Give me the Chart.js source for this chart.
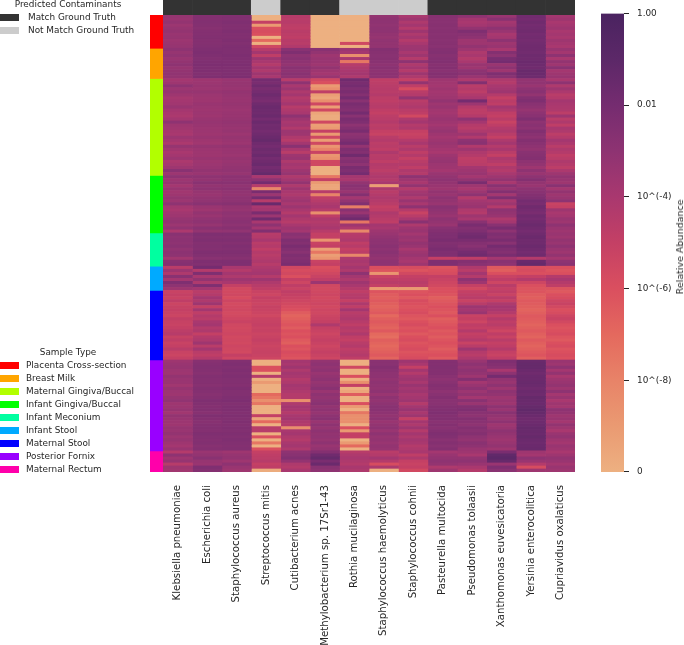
<!DOCTYPE html>
<html><head><meta charset="utf-8">
<script src="https://cdn.jsdelivr.net/npm/chart.js@4"></script>
<style>
html,body{margin:0;padding:0;background:#fff;width:684px;height:645px;overflow:hidden;font-family:"DejaVu Sans",sans-serif;color:#262626}
canvas{position:absolute;display:block}
.t{position:absolute;font-size:8.9px;line-height:12px;white-space:nowrap}
.c{transform:translateX(-50%)}
.s{position:absolute;left:0;width:19px;height:7px}
#barTitle{position:absolute;left:680px;top:247px;transform:translate(-50%,-50%) rotate(-90deg);font-size:9.5px;white-space:nowrap;line-height:12px}
</style></head><body>
<canvas id="heat" width="684" height="645" style="left:0;top:0"></canvas>
<canvas id="top" width="412" height="15" style="left:163px;top:0"></canvas>
<canvas id="side" width="13" height="457" style="left:150px;top:15px"></canvas>
<canvas id="bar" width="94" height="645" style="left:590px;top:0"></canvas>
<div id="barTitle">Relative Abundance</div>
<div id="legends"></div>
<script>
// Values are -10*log10(relative abundance): 100 means an abundance of 0, 0 means 1.00.
const taxa = ["Klebsiella pneumoniae","Escherichia coli","Staphylococcus aureus","Streptococcus mitis","Cutibacterium acnes","Methylobacterium sp. 17Sr1-43","Rothia mucilaginosa","Staphylococcus haemolyticus","Staphylococcus cohnii","Pasteurella multocida","Pseudomonas tolaasii","Xanthomonas euvesicatoria","Yersinia enterocolitica","Cupriavidus oxalaticus"];
const groundTruth = ["Match Ground Truth","Match Ground Truth","Match Ground Truth","Not Match Ground Truth","Match Ground Truth","Match Ground Truth","Not Match Ground Truth","Not Match Ground Truth","Not Match Ground Truth","Match Ground Truth","Match Ground Truth","Match Ground Truth","Match Ground Truth","Match Ground Truth"];
const sampleTypes = ["Placenta Cross-section","Breast Milk","Maternal Gingiva/Buccal","Infant Gingiva/Buccal","Infant Meconium","Infant Stool","Maternal Stool","Posterior Fornix","Maternal Rectum"];
const sampleCounts = [11,10,32,19,11,8,23,30,7];
const sampleColors = ["#ff0000","#ffa500","#b2ff00","#00ff00","#00ffa0","#00aaff","#0000ff","#9900ff","#ff00aa"];
const truthColors = {"Match Ground Truth":"#333333","Not Match Ground Truth":"#cccccc"};

const klebsiella = [33,34,32,35,33,32,34,33,35,34,33,
30,33,31,34,32,30,33,32,31,32,
38,36,30,35,33,36,39,38,37,34,38,40,41,38,30,36,37,39,40,35,38,41,33,37,40,38,35,41,39,36,28,35,
30,35,33,38,34,37,36,33,35,30,38,40,37,36,33,32,35,31,41,
28,30,29,30,28,31,29,30,37,27,26,
46,35,42,28,38,24,30,36,
52,50,52,48,53,51,50,52,53,49,51,52,50,47,45,51,48,52,50,46,52,53,50,
36,34,33,35,36,32,34,34,37,33,35,36,33,31,36,35,33,37,32,34,35,36,33,34,32,35,33,36,38,34,
44,30,36,33,45,36,37];
const ecoli = [26,26,25,26,27,26,26,25,26,26,25,
24,23,24,25,24,23,24,24,25,24,
36,35,34,35,33,35,36,36,34,35,36,35,36,34,33,34,35,35,36,34,36,37,33,35,36,36,34,36,35,34,32,34,
30,32,28,32,30,33,34,32,31,28,34,36,32,34,31,30,33,28,32,
24,25,24,26,25,26,24,25,28,24,25,
20,44,24,40,32,42,24,38,
46,44,38,42,36,50,38,48,44,46,40,38,44,42,50,44,42,36,46,38,46,48,44,
27,26,25,26,27,25,26,26,27,25,26,27,26,24,25,26,25,27,24,26,27,26,25,26,24,25,26,25,27,26,
34,32,28,33,34,24,26];
const saureus = [25,25,24,25,25,24,25,25,24,25,24,
24,24,23,24,24,23,24,24,24,23,
34,33,33,34,32,33,34,34,33,34,35,34,34,33,32,33,34,33,35,33,34,35,32,34,34,35,33,34,33,32,31,33,
29,30,28,31,29,31,32,30,30,27,32,33,30,31,29,28,30,27,31,
24,25,24,26,24,25,24,25,27,24,24,
40,44,38,42,36,40,50,56,
56,55,58,54,57,56,55,57,56,54,52,55,56,55,54,56,55,56,54,55,56,50,54,
25,24,25,24,25,24,25,25,26,24,25,25,24,23,25,24,24,25,24,25,24,25,24,25,24,25,24,25,26,25,
36,33,32,36,30,34,36];
const smitis = [100,100,50,90,60,58,60,100,70,100,55,
45,38,48,36,40,44,38,42,36,40,
20,22,18,22,20,17,20,22,18,16,17,18,16,20,16,19,18,20,18,16,14,18,20,17,19,16,20,18,16,20,18,14,
40,30,20,45,82,22,35,20,45,15,40,38,22,35,18,40,30,38,25,
45,44,40,46,44,48,44,46,44,42,45,
42,40,38,44,36,42,45,48,
52,54,50,52,53,51,52,53,55,52,51,50,52,51,53,52,50,52,53,52,51,52,54,
100,100,60,60,100,45,100,90,100,100,100,70,75,85,75,100,100,100,50,95,70,100,45,45,100,60,100,75,100,60,
50,48,47,45,50,48,98];
const cutibacterium = [45,46,45,47,48,46,47,48,45,46,43,
28,24,30,28,30,32,28,30,28,30,
45,30,40,35,42,38,44,42,38,45,42,40,30,36,40,38,43,35,36,42,45,38,28,40,46,36,34,42,38,40,36,33,
42,38,32,42,36,40,42,38,36,40,35,40,44,38,42,45,40,36,38,
28,30,24,26,22,25,28,24,26,24,22,
55,58,56,60,50,54,48,52,
48,50,52,54,56,58,60,65,68,66,64,62,65,60,62,60,64,66,60,62,58,60,62,
38,40,36,42,38,40,44,42,38,40,42,44,44,85,42,38,40,44,40,38,42,44,85,40,38,42,44,40,38,42,
30,28,25,32,42,44,40];
const methylobacterium = [100,100,100,100,100,100,100,100,100,100,100,
28,32,36,34,34,36,32,36,38,34,
55,60,90,85,48,92,95,85,55,92,55,95,98,98,55,92,90,50,90,55,92,55,88,80,52,88,85,55,55,100,100,100,
75,50,90,95,95,45,80,48,45,42,40,45,85,48,42,44,42,40,45,
50,50,88,52,50,92,75,92,88,52,50,
60,58,55,52,48,35,55,56,
55,54,56,55,54,56,54,55,53,52,50,42,50,52,54,52,50,52,54,52,50,52,54,
32,30,32,30,34,32,30,33,31,28,34,30,32,30,28,32,30,33,30,28,34,30,33,30,32,31,33,30,34,32,
26,18,14,22,16,28,30];
const rothia = [100,100,100,100,100,100,100,100,100,55,100,
35,38,85,40,75,45,42,40,38,42,
18,22,20,24,22,26,20,28,22,24,26,20,28,22,24,30,26,22,30,28,24,20,32,24,26,18,28,26,30,22,24,20,
38,40,32,28,30,34,26,38,32,25,78,28,34,24,18,75,36,42,82,
45,44,42,48,45,50,47,82,42,40,42,
38,42,30,38,42,36,40,44,
48,45,44,50,42,48,38,46,44,42,45,48,44,46,42,48,50,46,44,48,46,44,48,
100,100,55,100,100,60,100,85,50,100,95,65,100,100,60,90,100,75,85,85,85,100,60,90,50,50,100,90,70,100,
45,42,40,42,44,40,42];
const shaemolyticus = [32,30,30,31,30,30,32,33,31,32,32,
26,27,28,27,28,30,28,30,29,30,
48,47,46,45,46,44,47,48,46,45,48,50,47,46,44,47,46,50,52,46,44,47,46,48,42,46,45,48,44,45,47,44,
42,44,40,92,42,46,44,42,44,46,50,48,42,44,46,48,38,40,36,
34,32,30,30,28,30,28,30,32,30,30,
60,62,88,52,48,46,50,90,
62,65,66,64,66,68,66,64,70,66,64,66,68,64,70,72,66,68,70,68,66,64,68,
28,28,26,28,30,30,32,30,31,32,30,34,30,32,30,28,28,30,32,30,34,32,30,34,30,33,32,34,32,33,
46,44,38,44,58,42,100];
const scohnii = [40,36,42,38,44,36,42,38,44,40,36,
35,40,36,44,30,42,38,44,36,42,
50,32,48,58,46,44,32,46,44,42,46,48,56,42,38,44,42,50,52,50,44,40,46,42,48,44,50,46,44,48,42,44,
30,36,40,32,44,38,36,42,34,40,30,44,52,46,40,28,42,36,34,
38,34,36,32,34,40,36,34,38,40,36,
58,62,56,50,48,46,48,90,
62,60,64,58,60,62,60,58,62,64,60,58,62,60,64,60,58,62,60,58,62,60,58,
36,40,50,38,44,38,36,40,34,38,36,40,38,36,44,38,34,40,36,50,38,42,36,44,38,42,38,40,44,42,
40,48,42,50,52,50,56];
const pasteurella = [27,28,28,27,28,27,28,27,28,27,28,
26,25,27,26,25,27,26,28,26,27,
36,37,38,36,38,37,36,32,36,34,37,38,36,34,36,38,35,33,36,38,36,34,36,38,40,36,34,33,35,36,38,34,
32,30,32,34,36,32,34,30,32,34,28,30,32,34,30,32,34,28,26,
24,24,22,25,24,22,24,24,50,24,24,
62,60,58,50,52,54,56,60,
60,62,66,64,62,60,62,64,60,66,64,62,60,64,62,65,62,60,62,65,62,60,64,
26,26,25,26,26,28,30,28,26,27,30,28,26,28,28,26,25,24,26,25,28,26,28,26,24,25,28,26,28,26,
38,34,32,30,32,42,36];
const pseudomonas = [30,38,40,38,32,24,28,30,36,36,32,
36,42,40,44,40,34,36,30,28,34,
42,25,46,44,47,43,40,20,35,44,47,47,44,30,38,44,46,42,36,43,30,28,43,36,42,44,48,47,46,38,36,34,
38,32,22,36,40,35,30,44,38,36,34,42,44,36,40,28,22,26,24,
20,18,22,26,28,24,20,18,48,26,28,
42,46,38,44,30,36,50,56,
50,48,46,52,46,35,38,34,52,50,54,48,50,44,50,48,44,52,46,36,44,46,42,
34,30,33,30,32,36,26,38,34,30,35,32,38,28,34,26,24,28,30,26,28,30,26,28,26,30,32,28,30,34,
36,40,32,30,34,40,44];
const xanthomonas = [34,28,38,36,30,34,40,38,30,36,34,
40,26,30,22,20,34,30,36,24,28,
42,44,40,38,36,44,50,46,48,38,42,48,50,46,52,48,44,42,46,50,42,38,44,40,46,50,42,44,48,42,44,40,
36,32,40,28,34,26,38,24,40,36,44,30,32,34,42,38,28,22,30,
24,26,22,28,20,24,26,22,38,28,30,
64,66,60,52,48,54,46,50,
48,52,46,50,42,38,40,44,50,44,48,46,50,54,48,52,46,50,48,44,50,52,48,
24,26,28,40,30,20,32,34,30,36,30,32,36,34,36,30,34,28,32,34,30,36,34,30,32,34,36,34,32,36,
22,12,10,14,34,24,28];
const yersinia = [19,20,18,20,19,18,20,19,20,19,18,
18,19,17,18,16,17,18,15,16,17,
32,31,34,30,28,32,26,24,28,30,33,30,28,24,30,28,30,25,28,30,26,28,30,32,28,27,26,30,32,36,30,34,
30,26,32,34,30,28,26,24,20,22,18,20,22,18,20,18,16,18,20,
18,16,18,18,16,18,20,18,44,16,14,
60,58,60,50,44,54,60,62,
62,65,66,64,65,66,68,66,64,65,66,68,66,64,66,68,64,66,68,66,64,62,66,
15,14,14,16,18,16,16,15,16,18,16,17,14,15,16,14,12,14,16,18,17,16,14,15,16,14,16,17,16,15,
36,38,30,34,44,58,36];
const cupriavidus = [38,36,40,38,36,40,38,40,36,38,40,
34,38,30,40,32,36,28,38,36,34,
40,30,42,36,41,46,44,38,40,41,42,47,36,46,42,48,40,42,47,44,38,41,46,42,44,48,46,42,44,47,41,36,
32,34,36,28,38,32,36,34,30,52,50,36,40,38,34,36,30,34,36,
34,36,32,34,30,34,36,32,38,30,28,
60,62,60,44,40,44,48,62,
64,60,58,54,52,56,60,58,54,52,56,60,62,60,58,62,64,60,58,62,60,58,60,
34,36,30,38,32,40,36,34,32,36,30,38,34,40,36,38,30,32,36,34,38,32,36,40,34,32,36,38,34,36,
40,36,32,34,38,34,36];
const columns = [klebsiella,ecoli,saureus,smitis,cutibacterium,methylobacterium,rothia,shaemolyticus,scohnii,pasteurella,pseudomonas,xanthomonas,yersinia,cupriavidus];
const barTicks = ["0","10^(-8)","10^(-6)","10^(-4)","0.01","1.00"];
const colorStops = ["#edb081","#ea9a72","#e88368","#e4695e","#da4f5f","#c44065","#a9386f","#8e3372","#752c70","#5c2868","#4a2360"];

const rowTotal = sampleCounts.reduce((a,b)=>a+b,0);
function hexRgb(h){return [1,3,5].map(i=>parseInt(h.substr(i,2),16));}
function colorFor(depth){
  const t=(100-depth)/100*(colorStops.length-1), i=Math.min(Math.floor(t),colorStops.length-2), f=t-i;
  const a=hexRgb(colorStops[i]), b=hexRgb(colorStops[i+1]);
  return `rgb(${a.map((v,k)=>Math.round(v+(b[k]-v)*f)).join(",")})`;
}
Chart.defaults.font.family='"DejaVu Sans",sans-serif';
Chart.defaults.color='#262626';
Chart.defaults.animation=false;
Chart.defaults.responsive=false;
const quiet={legend:{display:false},tooltip:{enabled:false}};

new Chart(document.getElementById('heat'),{
  type:'bar',
  data:{labels:taxa,datasets:columns.map((col,k)=>({
    label:taxa[k],
    data:col.map((v,i)=>({x:taxa[k],y:[i,i+1],v})),
    backgroundColor:c=>colorFor(c.raw.v),
    borderWidth:0,barPercentage:1,categoryPercentage:1,grouped:false
  }))},
  options:{
    layout:{padding:{left:163,right:109,top:15,bottom:0}},
    plugins:quiet,
    scales:{
      x:{grid:{display:false,drawTicks:false},border:{display:false},
         afterFit:s=>{s.height=173;},
         ticks:{minRotation:90,maxRotation:90,autoSkip:false,padding:13,font:{size:10.2},color:'#262626'}},
      y:{display:false,min:0,max:rowTotal,reverse:true}
    }
  }
});

new Chart(document.getElementById('top'),{
  type:'bar',
  data:{labels:taxa,datasets:[{data:taxa.map(()=>1),backgroundColor:groundTruth.map(g=>truthColors[g]),borderWidth:0,barPercentage:1,categoryPercentage:1}]},
  options:{plugins:quiet,layout:{padding:0},scales:{x:{display:false},y:{display:false,min:0,max:1}}}
});

let running=0;
new Chart(document.getElementById('side'),{
  type:'bar',
  data:{labels:['Sample Type'],datasets:sampleTypes.map((s,k)=>{
    const d={label:s,data:[[running,running+sampleCounts[k]]],backgroundColor:sampleColors[k],borderWidth:0,barPercentage:1,categoryPercentage:1,grouped:false};
    running+=sampleCounts[k];return d;})},
  options:{plugins:quiet,layout:{padding:0},scales:{x:{display:false},y:{display:false,min:0,max:rowTotal,reverse:true}}}
});

new Chart(document.getElementById('bar'),{
  type:'bar',
  data:{labels:['Relative Abundance'],datasets:[{data:[[-10,0]],borderWidth:0,barPercentage:1,categoryPercentage:1,
    backgroundColor:c=>{
      const a=c.chart.chartArea; if(!a) return colorStops[5];
      const g=c.chart.ctx.createLinearGradient(0,a.bottom,0,a.top);
      colorStops.forEach((s,i)=>g.addColorStop(i/(colorStops.length-1),s));
      return g;
    }}]},
  options:{
    layout:{padding:{left:11,right:0,top:13,bottom:173}},
    plugins:quiet,
    scales:{
      x:{display:false},
      y:{position:'right',min:-10,max:0,
        afterBuildTicks:s=>{s.ticks=barTicks.map((_,i)=>({value:-10+2*i}));},
        afterFit:s=>{s.width=60;},
        grid:{drawOnChartArea:false,drawTicks:true,tickLength:5,tickColor:'#262626',tickWidth:1},
        border:{display:false},
        ticks:{padding:8,font:{size:8.9},color:'#262626',callback:(v)=>barTicks[Math.round((v+10)/2)]}
      }
    }
  }
});

const host=document.getElementById('legends');
function text(s,x,y,center){const d=document.createElement('div');d.className='t'+(center?' c':'');d.textContent=s;d.style.left=x+'px';d.style.top=(y-6)+'px';host.appendChild(d);}
function swatch(c,y){const d=document.createElement('div');d.className='s';d.style.background=c;d.style.top=(y-3.5)+'px';host.appendChild(d);}
text('Predicted Contaminants',68,4,true);
Object.keys(truthColors).forEach((k,i)=>{swatch(truthColors[k],17+13*i);text(k,28,17+13*i);});
text('Sample Type',68,352,true);
sampleTypes.forEach((s,i)=>{swatch(sampleColors[i],365+13*i);text(s,26,365+13*i);});
</script>
</body></html>
